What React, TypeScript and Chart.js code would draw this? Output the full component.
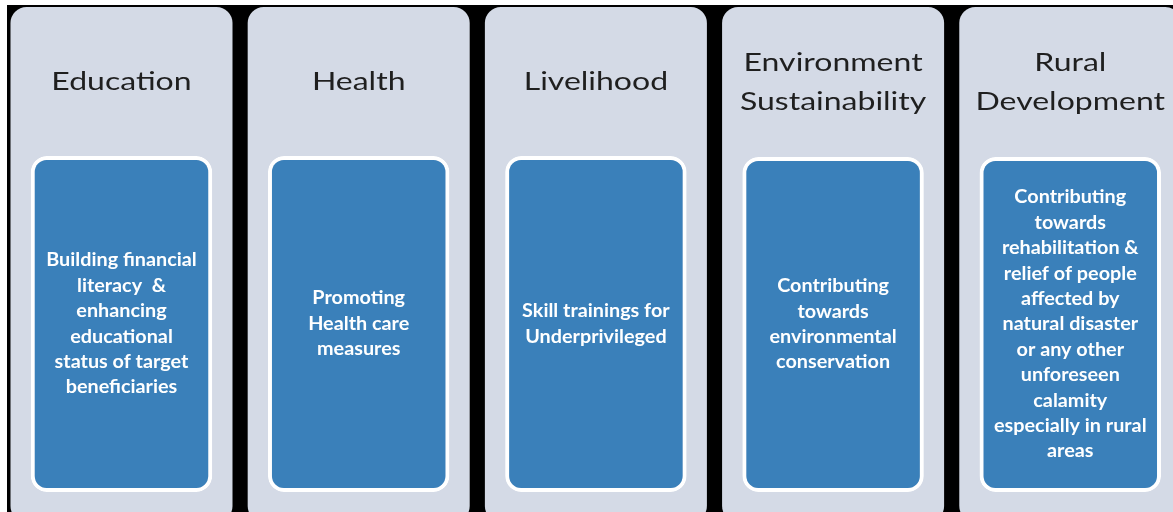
import React, { useEffect, useRef } from 'react';
import { Chart, registerables } from 'chart.js';

Chart.register(...registerables);

const categories = ['Education', 'Health', 'Livelihood', 'Environment Sustainability', 'Rural Development'];
const titleLines = [
  ['Education'],
  ['Health'],
  ['Livelihood'],
  ['Environment', 'Sustainability'],
  ['Rural', 'Development'],
];
const descLines = [
  ['Building financial', 'literacy  &', 'enhancing', 'educational', 'status of target', 'beneficiaries'],
  ['Promoting', 'Health care', 'measures'],
  ['Skill trainings for', 'Underprivileged'],
  ['Contributing', 'towards', 'environmental', 'conservation'],
  ['Contributing', 'towards', 'rehabilitation &', 'relief of people', 'affected by', 'natural disaster', 'or any other', 'unforeseen', 'calamity', 'especially in rural', 'areas'],
];
const panelStart = [7, 7, 7, 7, 7];
const panelEnd = [522, 522, 522, 522, 522];
const boxStart = [156, 156, 156, 157, 157];
const boxEnd = [492, 492, 492, 492, 492];

const PANEL = '#d4dae6';
const BLUE = '#3a80ba';

function stretchedText(ctx: any, text: string, x: number, y: number, sx: number) {
  ctx.save();
  ctx.translate(x, y);
  ctx.scale(sx, 1);
  ctx.fillText(text, 0, 0);
  ctx.restore();
}

const textPlugin = {
  id: 'panelText',
  afterDatasetsDraw(chart: any) {
    const ctx = chart.ctx;
    const panels = chart.getDatasetMeta(0).data;
    const boxes = chart.getDatasetMeta(1).data;
    ctx.save();
    ctx.textAlign = 'center';
    ctx.textBaseline = 'middle';
    panels.forEach((p: any, i: number) => {
      const b = boxes[i];
      const pTop = Math.min(p.y, p.base);
      const bTop = Math.min(b.y, b.base);
      const bBot = Math.max(b.y, b.base);
      ctx.font = '25px Lato';
      ctx.fillStyle = '#1f1f1f';
      const tl = titleLines[i];
      const tc = (pTop + bTop) / 2;
      tl.forEach((line, k) => stretchedText(ctx, line, p.x, tc + (k - (tl.length - 1) / 2) * 39, 1.28));
      ctx.font = 'bold 18px Lato';
      ctx.fillStyle = '#ffffff';
      const dl = descLines[i];
      const dc = (bTop + bBot) / 2;
      dl.forEach((line, k) => stretchedText(ctx, line, b.x, dc + (k - (dl.length - 1) / 2) * 25.4, 1.1));
    });
    ctx.restore();
  },
};

export default function App() {
  const ref = useRef<HTMLCanvasElement>(null);
  useEffect(() => {
    const chart = new Chart(ref.current!, {
      type: 'bar',
      data: {
        datasets: [
          {
            label: 'Areas',
            data: categories.map((c, i) => ({ x: i, y: [panelStart[i], panelEnd[i]] })) as any,
            backgroundColor: PANEL,
            borderWidth: 0,
            borderRadius: 16,
            borderSkipped: false,
            grouped: false,
            categoryPercentage: 1,
            barPercentage: 0.936,
            order: 2,
          },
          {
            label: 'Activities',
            data: categories.map((c, i) => ({ x: i, y: [boxStart[i], boxEnd[i]] })) as any,
            backgroundColor: BLUE,
            borderColor: '#ffffff',
            borderWidth: 4,
            borderRadius: 16,
            borderSkipped: false,
            grouped: false,
            categoryPercentage: 1,
            barPercentage: 0.765,
            order: 1,
          },
        ],
      },
      options: {
        animation: false,
        responsive: false,
        maintainAspectRatio: false,
        layout: { padding: 0 },
        plugins: { legend: { display: false }, tooltip: { enabled: false } },
        scales: {
          x: {
            type: 'linear',
            min: -0.4827,
            max: 4.433,
            offset: false,
            display: false,
            ticks: { stepSize: 1, includeBounds: false },
          },
          y: { type: 'linear', min: 5, max: 512, reverse: true, display: false },
        },
      },
      plugins: [textPlugin],
    });
    return () => chart.destroy();
  }, []);
  return (
    <div style={{ position: 'fixed', left: 7, top: 5, width: 1166, height: 507, background: '#000' }}>
      <canvas ref={ref} width={1166} height={507} style={{ display: 'block' }} />
    </div>
  );
}
